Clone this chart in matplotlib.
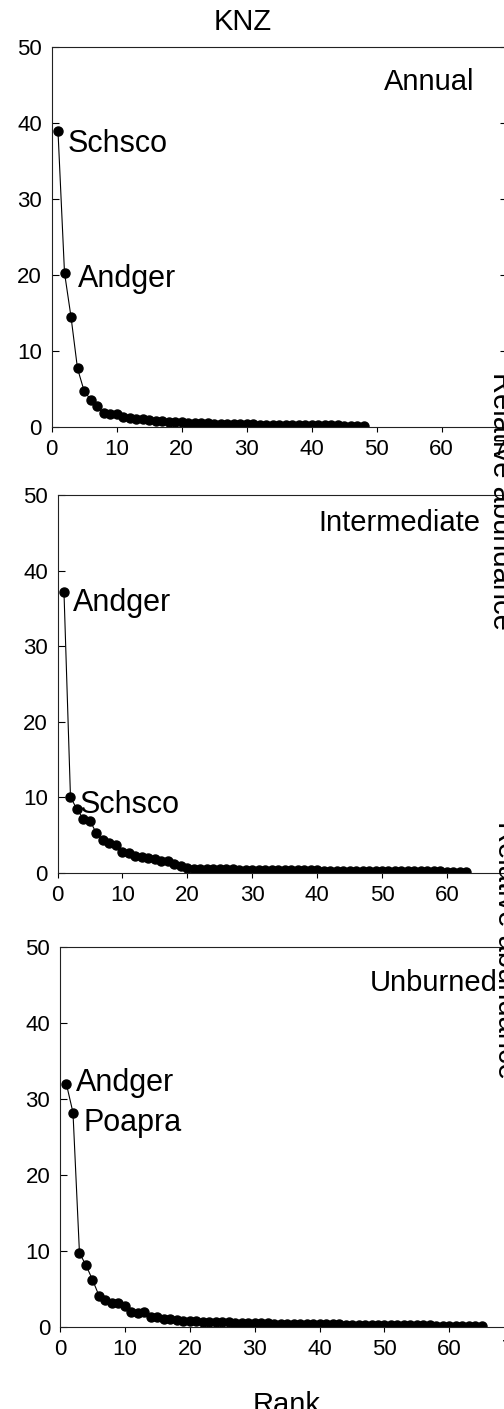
import matplotlib
matplotlib.use("Agg")
import matplotlib.pyplot as plt
import numpy as np

plt.rcParams['font.family'] = ['Liberation Sans', 'DejaVu Sans']

# relative abundance by rank
annual = [38.9, 20.3, 14.5, 7.7, 4.8, 3.6, 2.7, 1.8, 1.75, 1.7,
          1.35, 1.2, 1.1, 1.0, 0.9, 0.8, 0.75, 0.7, 0.65, 0.6,
          0.58, 0.55, 0.5, 0.48, 0.45, 0.43, 0.4, 0.38, 0.36, 0.35,
          0.33, 0.32, 0.31, 0.3, 0.29, 0.28, 0.27, 0.26, 0.25, 0.24,
          0.23, 0.22, 0.21, 0.2, 0.19, 0.18, 0.17, 0.16]
intermediate = [37.1, 10.0, 8.4, 7.1, 6.9, 5.2, 4.3, 3.9, 3.7, 2.7,
                2.55, 2.2, 2.1, 1.9, 1.75, 1.6, 1.5, 1.2, 0.95, 0.6,
                0.55, 0.52, 0.5, 0.48, 0.46, 0.44, 0.43, 0.42, 0.41, 0.4,
                0.39, 0.38, 0.37, 0.36, 0.35, 0.34, 0.33, 0.32, 0.31, 0.3,
                0.29, 0.28, 0.27, 0.26, 0.25, 0.24, 0.23, 0.22, 0.21, 0.2,
                0.2, 0.19, 0.19, 0.18, 0.18, 0.17, 0.17, 0.16, 0.16, 0.15,
                0.15, 0.14, 0.14]
unburned = [31.9, 28.2, 9.7, 8.1, 6.2, 4.1, 3.5, 3.1, 3.1, 2.7,
            2.0, 1.85, 1.9, 1.3, 1.25, 1.0, 0.95, 0.85, 0.8, 0.75,
            0.7, 0.68, 0.65, 0.62, 0.6, 0.58, 0.55, 0.53, 0.5, 0.48,
            0.46, 0.44, 0.42, 0.4, 0.38, 0.36, 0.35, 0.34, 0.33, 0.32,
            0.31, 0.3, 0.29, 0.28, 0.27, 0.26, 0.25, 0.24, 0.23, 0.22,
            0.21, 0.2, 0.19, 0.18, 0.17, 0.16, 0.16, 0.15, 0.15, 0.14,
            0.14, 0.13, 0.13, 0.12, 0.12]

treatments = ["Annual", "Intermediate", "Unburned"]
series = [annual, intermediate, unburned]
# (label, rank position, value position) of the species names
species_labels = [
    [("Schsco", 2.54, 36.2), ("Andger", 4.1, 18.4)],
    [("Andger", 2.43, 34.6), ("Schsco", 3.47, 7.9)],
    [("Andger", 2.47, 31.0), ("Poapra", 3.59, 25.75)],
]
treat_pos = [(65.0, 44.3), (65.1, 45.2), (67.5, 44.2)]

W, H = 504, 1409
fig = plt.figure(figsize=(W / 100, H / 100), dpi=100)

# axes boxes in pixels: left, top, right, bottom
boxes = [(51.5, 47, 506.5, 427),
         (57.5, 495, 511.8, 872.7),
         (60, 947, 514.3, 1326.7)]

for box, vals, name, labs, tp in zip(boxes, series, treatments,
                                     species_labels, treat_pos):
    l, t, r, b = box
    ax = fig.add_axes([l / W, (H - b) / H, (r - l) / W, (b - t) / H])
    ranks = np.arange(1, len(vals) + 1)
    ax.plot(ranks, vals, color='black', linewidth=0.8, marker='o',
            markersize=6.5)
    ax.set_xlim(0, 70)
    ax.set_ylim(0, 50)
    ax.set_xticks(range(0, 71, 10))
    ax.set_yticks(range(0, 51, 10))
    ax.tick_params(axis='y', direction='in', length=5, width=0.8,
                   labelsize=16, pad=7, right=True, labelright=False)
    ax.tick_params(axis='x', direction='out', length=3.5, width=0.8,
                   labelsize=16, pad=5.5)
    for s in ax.spines.values():
        s.set_linewidth(0.8)
        s.set_color('#222222')
    ax.text(tp[0], tp[1], name, fontsize=21, ha='right', va='baseline')
    for txt, x, y in labs:
        ax.text(x, y, txt, fontsize=22, ha='left', va='baseline')

fig.text(243 / W, (H - 30) / H, "KNZ", fontsize=21, ha='center',
         va='baseline')
fig.text(287 / W, (H - 1413) / H, "Rank", fontsize=21, ha='center',
         va='baseline')

# y-label of the neighbouring column, cut at the right edge
for xp, yp in [(493, 501), (498, 950)]:
    fig.text(xp / W, (H - yp) / H, "Relative abundance", fontsize=21,
             rotation=270, rotation_mode='anchor', ha='center',
             va='baseline')

fig.savefig("out.png", dpi=100)
